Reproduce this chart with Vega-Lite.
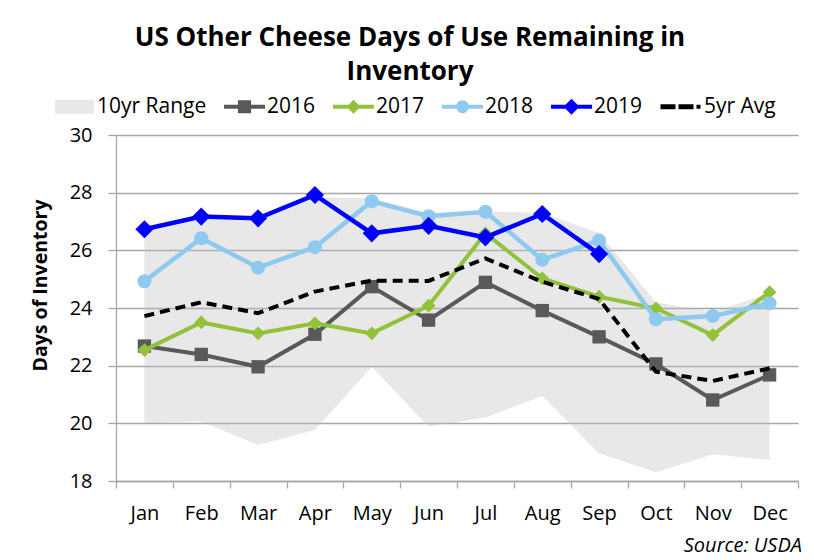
{
  "$schema": "https://vega.github.io/schema/vega-lite/v6.json",
  "width": 682,
  "height": 346,
  "autosize": "none",
  "padding": {"left": 116, "top": 135, "right": 16, "bottom": 79},
  "background": "white",
  "config": {
    "view": {"stroke": null},
    "font": "Open Sans",
    "text": {"font": "Open Sans"}
  },
  "title": {
    "text": ["US Other Cheese Days of Use Remaining in", "Inventory"],
    "font": "Open Sans",
    "fontSize": 26,
    "fontWeight": "bold",
    "color": "#000000",
    "lineHeight": 34,
    "anchor": "middle",
    "dx": -47,
    "dy": 41,
    "offset": 52
  },
  "datasets": {
    "lines": [
      {"m": 1, "month": "Jan", "series": "2016", "value": 22.68},
      {"m": 2, "month": "Feb", "series": "2016", "value": 22.39},
      {"m": 3, "month": "Mar", "series": "2016", "value": 21.96},
      {"m": 4, "month": "Apr", "series": "2016", "value": 23.09},
      {"m": 5, "month": "May", "series": "2016", "value": 24.74},
      {"m": 6, "month": "Jun", "series": "2016", "value": 23.58},
      {"m": 7, "month": "Jul", "series": "2016", "value": 24.89},
      {"m": 8, "month": "Aug", "series": "2016", "value": 23.91},
      {"m": 9, "month": "Sep", "series": "2016", "value": 23.0},
      {"m": 10, "month": "Oct", "series": "2016", "value": 22.06},
      {"m": 11, "month": "Nov", "series": "2016", "value": 20.81},
      {"m": 12, "month": "Dec", "series": "2016", "value": 21.68},
      {"m": 1, "month": "Jan", "series": "2017", "value": 22.54},
      {"m": 2, "month": "Feb", "series": "2017", "value": 23.5},
      {"m": 3, "month": "Mar", "series": "2017", "value": 23.12},
      {"m": 4, "month": "Apr", "series": "2017", "value": 23.47},
      {"m": 5, "month": "May", "series": "2017", "value": 23.12},
      {"m": 6, "month": "Jun", "series": "2017", "value": 24.08},
      {"m": 7, "month": "Jul", "series": "2017", "value": 26.59},
      {"m": 8, "month": "Aug", "series": "2017", "value": 25.03},
      {"m": 9, "month": "Sep", "series": "2017", "value": 24.39},
      {"m": 10, "month": "Oct", "series": "2017", "value": 23.99},
      {"m": 11, "month": "Nov", "series": "2017", "value": 23.06},
      {"m": 12, "month": "Dec", "series": "2017", "value": 24.55},
      {"m": 1, "month": "Jan", "series": "2018", "value": 24.93},
      {"m": 2, "month": "Feb", "series": "2018", "value": 26.42},
      {"m": 3, "month": "Mar", "series": "2018", "value": 25.4},
      {"m": 4, "month": "Apr", "series": "2018", "value": 26.11},
      {"m": 5, "month": "May", "series": "2018", "value": 27.7},
      {"m": 6, "month": "Jun", "series": "2018", "value": 27.18},
      {"m": 7, "month": "Jul", "series": "2018", "value": 27.34},
      {"m": 8, "month": "Aug", "series": "2018", "value": 25.67},
      {"m": 9, "month": "Sep", "series": "2018", "value": 26.34},
      {"m": 10, "month": "Oct", "series": "2018", "value": 23.61},
      {"m": 11, "month": "Nov", "series": "2018", "value": 23.72},
      {"m": 12, "month": "Dec", "series": "2018", "value": 24.16},
      {"m": 1, "month": "Jan", "series": "2019", "value": 26.73},
      {"m": 2, "month": "Feb", "series": "2019", "value": 27.17},
      {"m": 3, "month": "Mar", "series": "2019", "value": 27.11},
      {"m": 4, "month": "Apr", "series": "2019", "value": 27.92},
      {"m": 5, "month": "May", "series": "2019", "value": 26.59},
      {"m": 6, "month": "Jun", "series": "2019", "value": 26.85},
      {"m": 7, "month": "Jul", "series": "2019", "value": 26.45},
      {"m": 8, "month": "Aug", "series": "2019", "value": 27.26},
      {"m": 9, "month": "Sep", "series": "2019", "value": 25.87},
      {"m": 1, "month": "Jan", "series": "5yr Avg", "value": 23.72},
      {"m": 2, "month": "Feb", "series": "5yr Avg", "value": 24.2},
      {"m": 3, "month": "Mar", "series": "5yr Avg", "value": 23.82},
      {"m": 4, "month": "Apr", "series": "5yr Avg", "value": 24.57},
      {"m": 5, "month": "May", "series": "5yr Avg", "value": 24.95},
      {"m": 6, "month": "Jun", "series": "5yr Avg", "value": 24.94},
      {"m": 7, "month": "Jul", "series": "5yr Avg", "value": 25.72},
      {"m": 8, "month": "Aug", "series": "5yr Avg", "value": 24.91},
      {"m": 9, "month": "Sep", "series": "5yr Avg", "value": 24.31},
      {"m": 10, "month": "Oct", "series": "5yr Avg", "value": 21.79},
      {"m": 11, "month": "Nov", "series": "5yr Avg", "value": 21.47},
      {"m": 12, "month": "Dec", "series": "5yr Avg", "value": 21.91}
    ],
    "range": [
      {"m": 1, "month": "Jan", "lo": 20.0, "hi": 26.6},
      {"m": 2, "month": "Feb", "lo": 20.06, "hi": 27.1},
      {"m": 3, "month": "Mar", "lo": 19.25, "hi": 27.05},
      {"m": 4, "month": "Apr", "lo": 19.77, "hi": 27.85},
      {"m": 5, "month": "May", "lo": 21.96, "hi": 27.8},
      {"m": 6, "month": "Jun", "lo": 19.88, "hi": 27.3},
      {"m": 7, "month": "Jul", "lo": 20.2, "hi": 27.35},
      {"m": 8, "month": "Aug", "lo": 20.95, "hi": 27.3},
      {"m": 9, "month": "Sep", "lo": 18.96, "hi": 26.6},
      {"m": 10, "month": "Oct", "lo": 18.3, "hi": 24.2},
      {"m": 11, "month": "Nov", "lo": 18.93, "hi": 23.87},
      {"m": 12, "month": "Dec", "lo": 18.73, "hi": 24.5}
    ]
  },
  "encoding": {
    "x": {
      "field": "m",
      "type": "quantitative",
      "scale": {"domain": [0.5, 12.5], "nice": false, "zero": false},
      "axis": {
        "values": [0.5, 1.5, 2.5, 3.5, 4.5, 5.5, 6.5, 7.5, 8.5, 9.5, 10.5, 11.5, 12.5],
        "labelExpr": "datum.value > 12 ? '' : ['Jan','Feb','Mar','Apr','May','Jun','Jul','Aug','Sep','Oct','Nov','Dec'][floor(datum.value)]",
        "labelOffset": 28.4,
        "labelFlush": false,
        "labelOverlap": false,
        "labelBound": false,
        "labelFont": "Open Sans",
        "labelFontSize": 20,
        "labelColor": "#000000",
        "labelPadding": 15,
        "tickSize": 7,
        "tickColor": "#a6a6a6",
        "tickWidth": 1.3,
        "domainColor": "#a6a6a6",
        "domainWidth": 1.3,
        "grid": false,
        "title": "Source: USDA",
        "titleFont": "Open Sans",
        "titleFontSize": 20,
        "titleFontStyle": "italic",
        "titleFontWeight": "normal",
        "titleColor": "#000000",
        "titleAnchor": "end",
        "titleAlign": "right",
        "titleBaseline": "alphabetic",
        "titleX": 685.5,
        "titleY": 70.7
      }
    }
  },
  "layer": [
    {
      "data": {"name": "range"},
      "mark": {"type": "area", "color": "#c0c0c0", "opacity": 0.36},
      "encoding": {
        "y": {
          "field": "lo",
          "type": "quantitative",
          "scale": {"domain": [18, 30], "nice": false, "zero": false},
          "axis": {
            "values": [18, 20, 22, 24, 26, 28, 30],
            "grid": true,
            "gridColor": "#a6a6a6",
            "gridWidth": 1.3,
            "domainColor": "#a6a6a6",
            "domainWidth": 1.3,
            "tickColor": "#a6a6a6",
            "tickWidth": 1.3,
            "tickSize": 8,
            "labelFont": "Open Sans",
            "labelFontSize": 20,
            "labelColor": "#000000",
            "labelPadding": 16,
            "title": "Days of Inventory",
            "titleFont": "Open Sans",
            "titleFontSize": 19.5,
            "titleFontWeight": "bold",
            "titleColor": "#000000",
            "titleBaseline": "alphabetic",
            "titleAngle": -90,
            "titleAlign": "center",
            "titleX": -69.3,
            "titleY": 150
          }
        },
        "y2": {"field": "hi"}
      }
    },
    {
      "data": {"name": "lines"},
      "transform": [{"filter": "datum.series === '2016'"}],
      "mark": {"type": "line", "color": "#595959", "strokeWidth": 4, "point": {"shape": "square", "size": 178, "filled": true, "color": "#595959", "opacity": 1}},
      "encoding": {"y": {"field": "value", "type": "quantitative"}}
    },
    {
      "data": {"name": "lines"},
      "transform": [{"filter": "datum.series === '2017'"}],
      "mark": {"type": "line", "color": "#92c13a", "strokeWidth": 4, "point": {"shape": "diamond", "size": 190, "filled": true, "color": "#92c13a", "opacity": 1}},
      "encoding": {"y": {"field": "value", "type": "quantitative"}}
    },
    {
      "data": {"name": "lines"},
      "transform": [{"filter": "datum.series === '2018'"}],
      "mark": {"type": "line", "color": "#8ec9f0", "strokeWidth": 4.5, "point": {"shape": "circle", "size": 196, "filled": true, "color": "#8ec9f0", "opacity": 1}},
      "encoding": {"y": {"field": "value", "type": "quantitative"}}
    },
    {
      "data": {"name": "lines"},
      "transform": [{"filter": "datum.series === '2019'"}],
      "mark": {"type": "line", "color": "#0000ff", "strokeWidth": 4.5, "point": {"shape": "diamond", "size": 330, "filled": true, "color": "#0000ff", "opacity": 1}},
      "encoding": {"y": {"field": "value", "type": "quantitative"}}
    },
    {
      "data": {"name": "lines"},
      "transform": [{"filter": "datum.series === '5yr Avg'"}],
      "mark": {"type": "line", "color": "#000000", "strokeWidth": 4, "strokeDash": [10, 6]},
      "encoding": {"y": {"field": "value", "type": "quantitative"}}
    },
    {
      "data": {"name": "lines"},
      "mark": {"type": "point", "filled": true, "opacity": 0},
      "encoding": {
        "y": {"field": "value", "type": "quantitative"},
        "color": {
          "field": "series",
          "type": "nominal",
          "scale": {
            "domain": ["10yr Range", "2016", "2017", "2018", "2019", "5yr Avg"],
            "range": ["#e8e8e8", "#595959", "#92c13a", "#8ec9f0", "#0000ff", "#000000"]
          },
          "legend": {
            "orient": "none",
            "legendX": -52,
            "legendY": -39,
            "direction": "horizontal",
            "columns": 6,
            "title": null,
            "labelFont": "Open Sans",
            "labelFontSize": 21,
            "labelColor": "#000000",
            "labelOffset": 12,
            "columnPadding": 17,
            "symbolSize": 16,
            "symbolOpacity": 1,
            "symbolStrokeWidth": 0,
            "labelLimit": 300,
            "encode": {
              "symbols": {"update": {"opacity": {"value": 1}, "fillOpacity": {"value": 1}}}
            }
          }
        },
        "shape": {
          "field": "series",
          "type": "nominal",
          "scale": {
            "domain": ["10yr Range", "2016", "2017", "2018", "2019", "5yr Avg"],
            "range": [
              "M-9.75,-3.5H9.75V3.5H-9.75Z",
              "M-10.25,-1H10.25V1H-10.25Z M-3.3,-3.3H3.3V3.3H-3.3Z",
              "M-10.25,-1H10.25V1H-10.25Z M0,-3.5L3.5,0L0,3.5L-3.5,0Z",
              "M-10.25,-1H10.25V1H-10.25Z M-3.2,0A3.2,3.2 0 1,1 3.2,0A3.2,3.2 0 1,1 -3.2,0Z",
              "M-10.25,-1H10.25V1H-10.25Z M0,-4L4,0L0,4L-4,0Z",
              "M-10.5,-1.2H-3V1.2H-10.5Z M-1.5,-1.2H6V1.2H-1.5Z M7.5,-1H9.5V1H7.5Z"
            ]
          }
        }
      }
    }
  ]
}
